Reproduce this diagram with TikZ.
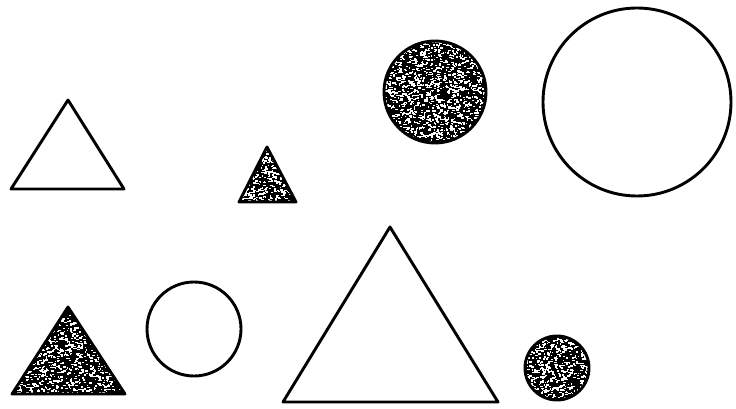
\documentclass[tikz,border=0pt]{standalone}
\newcommand\speckle[5]{%
  \foreach \i in {1,...,#5}{%
    \pgfmathsetmacro\px{#1+rnd*#3}%
    \pgfmathsetmacro\py{#2+rnd*#4}%
    \pgfmathsetmacro\pw{1+2*rnd}%
    \fill[white] (\px,\py) rectangle ++(\pw,1.4);}}
\begin{document}
\begin{tikzpicture}[x=1pt,y=-1pt,
  outline/.style={draw=black,line width=2.9pt,line join=round},
  solid shape/.style={fill=black}]
\useasboundingbox[fill=white] (0,0) rectangle (736,409);
\pgfmathsetseed{7}
% outline triangle top-left
\draw[outline] (68,100) -- (11,189) -- (124,189) -- cycle;
% small speckled triangle
\begin{scope}
  \clip (267,147) -- (239,202) -- (296,202) -- cycle;
  \fill[solid shape] (230,140) rectangle (300,205);
  \speckle{239}{147}{57}{55}{450}
\end{scope}
\draw[outline] (267,147) -- (239,202) -- (296,202) -- cycle;
% speckled circle top
\begin{scope}
  \clip (435,92) circle (51pt);
  \fill[solid shape] (380,38) rectangle (490,146);
  \speckle{384}{41}{102}{102}{1450}
\end{scope}
\draw[outline] (435,92) circle (51pt);
% big outline circle
\draw[outline] (637,102) circle (94pt);
% speckled triangle bottom-left
\begin{scope}
  \clip (68,307) -- (12,394) -- (125,394) -- cycle;
  \fill[solid shape] (5,300) rectangle (130,400);
  \speckle{12}{307}{113}{87}{1200}
\end{scope}
\draw[outline] (68,307) -- (12,394) -- (125,394) -- cycle;
% outline circle bottom
\draw[outline] (194,329) circle (47pt);
% big outline triangle
\draw[outline] (390,227) -- (283,402) -- (498,402) -- cycle;
% small speckled circle
\begin{scope}
  \clip (557,368) circle (32pt);
  \fill[solid shape] (520,332) rectangle (595,404);
  \speckle{525}{336}{64}{64}{580}
\end{scope}
\draw[outline] (557,368) circle (32pt);
\end{tikzpicture}
\end{document}
